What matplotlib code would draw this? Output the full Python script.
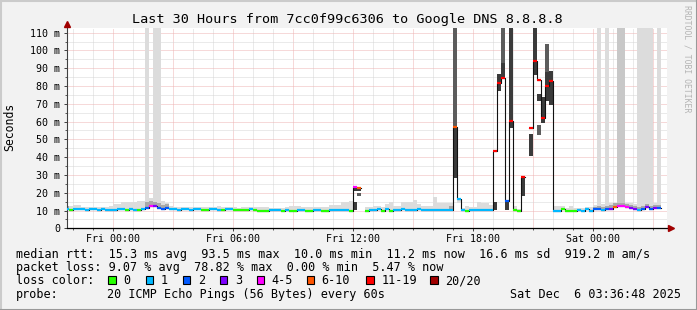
import numpy as np
import matplotlib
matplotlib.use("Agg")
import matplotlib.pyplot as plt
from matplotlib.lines import Line2D
from matplotlib.patches import Rectangle

plt.rcParams["font.family"] = ["DejaVu Sans Mono"]

W, H, DPI = 697, 310, 100

TITLE = "Last 30 Hours from 7cc0f99c6306 to Google DNS 8.8.8.8"
BIN_START = -2.4      # hours relative to Fri 00:00
BIN_HOURS = 0.2       # 12-minute consolidation step
XLIM = (-2.3, 27.7)
YLIM = (0, 112.8)

x_tick_hours = [0, 6, 12, 18, 24]
x_tick_labels = ["Fri 00:00", "Fri 06:00", "Fri 12:00", "Fri 18:00", "Sat 00:00"]
y_tick_values = [0, 10, 20, 30, 40, 50, 60, 70, 80, 90, 100, 110]
y_tick_labels = ["0", "10 m", "20 m", "30 m", "40 m", "50 m", "60 m",
                 "70 m", "80 m", "90 m", "100 m", "110 m"]

# median rtt per 12-minute bin (ms); None = unknown
median_ms = [
    10.7, 10.1, 10.7, 10.7, 10.7, 10.1, 10.7, 10.7, 10.1, 10.7,
    10.1, 10.1, 10.1, 10.7, 10.7, 10.2, 10.7, 10.5, 10.2, 10.7,
    11.5, 12.7, 12.7, 11.5, 11.0, 11.3, 10.7, 10.7, 10.4, 10.7,
    10.7, 10.4, 10.7, 10.7, 10.1, 10.1, 10.7, 10.7, 10.5, 10.1,
    10.6, 10.6, 10.1, 10.1, 10.1, 10.3, 10.6, 10.1, 10.0, 10.0,
    10.0, 10.3, 10.3, 10.5, 9.9, 10.5, 9.9, 9.9, 10.5, 10.3,
    9.9, 9.9, 10.5, 10.5, 9.9, 9.9, 10.4, 10.4, 10.5, 10.3,
    10.4, 9.9, 23.5, 22.4, None, 10.0, 10.3, 10.3, 10.6, 10.0,
    10.6, 10.0, 10.5, 10.3, 10.6, 10.3, 10.5, 10.3, 10.6, 10.5,
    10.3, 10.5, 10.3, 10.5, 10.5, 10.3, 10.3, 57.2, 16.3, 10.2,
    10.0, 10.3, 10.5, 10.5, 10.3, 10.3, 10.3, 43.5, 81.5, 84.7,
    15.4, 60.3, 10.2, 9.9, 28.7, None, 56.6, 94.1, 83.4, 62.2,
    80.0, 82.8, 9.8, 9.8, 10.7, 9.8, 9.8, 9.8, 10.5, 9.8,
    11.1, 9.8, 10.7, 10.7, 10.5, 10.7, 10.7, 12.0, 12.6, 12.6,
    12.0, 11.5, 11.1, 10.5, 10.7, 12.0, 11.1, 11.5, 11.2,
]

# loss class per bin: 0:"0" 1:"1" 2:"2" 3:"3" 4:"4-5" 5:"6-10" 6:"11-19" 7:"20/20"
loss_class = [
    1, 0, 1, 1, 1, 1, 1, 1, 1, 1,
    1, 1, 1, 1, 1, 0, 1, 1, 0, 1,
    2, 4, 3, 2, 2, 2, 1, 1, 1, 1,
    1, 1, 1, 1, 0, 0, 1, 1, 1, 0,
    1, 1, 0, 0, 0, 0, 1, 0, 0, 0,
    0, 1, 1, 1, 0, 1, 0, 0, 1, 1,
    0, 0, 1, 1, 0, 0, 1, 1, 1, 1,
    1, 0, 4, 5, None, 0, 1, 1, 1, 0,
    1, 0, 1, 1, 1, 1, 1, 1, 1, 1,
    1, 1, 1, 1, 1, 1, 1, 5, 1, 1,
    0, 1, 1, 1, 1, 1, 1, 6, 6, 6,
    2, 6, 0, 0, 6, None, 6, 6, 6, 6,
    6, 6, 1, 1, 0, 0, 0, 0, 1, 1,
    1, 1, 2, 2, 1, 2, 3, 5, 4, 4,
    4, 3, 3, 1, 2, 3, 2, 3, 2,
]

# top of the light outer smoke per bin (ms); None = no light smoke
smoke_top = [
    12.7, 12.5, 13.1, 13.1, 11.8, 11.8, 12.0, 12.2, 12.2, 11.8,
    11.8, 12.8, 13.7, 13.7, 14.6, 14.6, 14.6, 15.0, 15.4, 15.4,
    120, 17.0, 120, 120, 15.5, 14.0, 12.5, 12.0, 12.0, 11.8,
    11.8, 11.8, 12.0, 12.0, 11.8, 12.2, 11.8, 11.8, 12.5, 11.8,
    11.8, 12.0, 11.8, 11.5, 11.8, 12.2, 11.8, 12.0, 12.2, 12.2,
    12.0, 11.5, 11.2, 11.5, 11.5, 12.0, 12.5, 12.5, 12.5, 12.0,
    12.0, 12.0, 12.0, 11.8, 11.8, 12.0, 13.1, 13.1, 13.1, 15.0,
    15.0, 15.5, None, None, None, 12.2, 12.2, 12.5, 12.5, 12.2,
    13.5, 15.0, 12.5, 12.5, 15.0, 15.0, 15.0, 15.9, 13.5, 12.5,
    12.5, 12.8, 17.8, 14.5, 14.5, 14.0, 14.4, None, 14.0, 11.5,
    12.5, 12.0, 12.0, 14.7, 14.5, 14.0, 13.3, None, None, None,
    None, None, 12.5, 10.8, None, None, None, None, None, None,
    None, None, 12.7, 12.7, 12.5, 11.5, 12.8, 11.5, 11.5, 11.2,
    12.0, 12.0, 13.0, 120, 13.5, 120, 14.0, 14.5, 120, 120,
    14.5, 14.0, 13.5, 120, 120, 120, 120, 14.0, 120,
]
dense_outer_bins = [138, 139]

# inner (denser) smoke near the median
mid_smoke_bins = [0, 20, 21, 22, 23, 24, 25, 96, 132, 133, 134, 135, 136, 137,
                  138, 139, 140, 141, 142, 143, 144, 145, 146, 147, 148]
mid_smoke_top = [12.3, 15.0, 15.5, 15.0, 14.5, 13.0, 13.5, 12.5, 12.0, 12.5, 12.0,
                 12.5, 13.0, 14.0, 14.4, 14.4, 13.8, 13.0, 12.5, 12.0, 12.5,
                 13.5, 12.5, 13.0, 13.0]

# dark smoke blocks of the high-latency bins: bin, low, high, shade (0 dark, 1 medium)
block_bin = [72, 72, 73, 73, 97, 97, 107, 108, 109, 109, 110, 111, 114, 116,
             117, 118, 118, 119, 120, 120, 121]
block_low = [10.3, 21.0, 21.0, 18.3, 28.1, 57.2, 10.3, 77.4, 84.2, 92.8, 10.3,
             56.6, 17.9, 40.8, 86.2, 71.6, 52.5, 59.0, 71.6, 88.1, 69.4]
block_high = [15.0, 23.0, 22.5, 20.0, 57.2, 120, 15.0, 86.6, 92.8, 120, 15.8,
              120, 29.1, 52.9, 120, 75.4, 58.1, 74.0, 88.1, 103.7, 88.5]
block_shade = [0, 0, 0, 1, 0, 1, 0, 0, 0, 1, 0, 0, 0, 0, 0, 0, 1, 0, 0, 1, 0]

loss_labels = ["0", "1", "2", "3", "4-5", "6-10", "11-19", "20/20"]
loss_colors = ["#26ff00", "#00b8ff", "#0059ff", "#7e00ff", "#ff00ff",
               "#ff5500", "#ff0000", "#a10000"]

stats_line1 = "median rtt:  15.3 ms avg  93.5 ms max  10.0 ms min  11.2 ms now  16.6 ms sd  919.2 m am/s"
stats_line2 = "packet loss: 9.07 % avg  78.82 % max  0.00 % min  5.47 % now"
probe_text = "20 ICMP Echo Pings (56 Bytes) every 60s"
date_text = "Sat Dec  6 03:36:48 2025"
watermark = "RRDTOOL / TOBI OETIKER"

# ---------------------------------------------------------------
def fx(px):
    return px / W


def fy(py):
    return 1 - py / H


fig = plt.figure(figsize=(W / DPI, H / DPI), dpi=DPI, facecolor="#f2f2f2")

# frame shading
fig.add_artist(Line2D([0, 1], [fy(0.5), fy(0.5)], transform=fig.transFigure, color="#cbcbcb", lw=1.5))
fig.add_artist(Line2D([fx(0.5), fx(0.5)], [0, 1], transform=fig.transFigure, color="#cbcbcb", lw=1.5))
fig.add_artist(Line2D([0, 1], [fy(H - 0.5), fy(H - 0.5)], transform=fig.transFigure, color="#999999", lw=1.5))
fig.add_artist(Line2D([fx(W - 0.5), fx(W - 0.5)], [0, 1], transform=fig.transFigure, color="#999999", lw=1.5))

L, R, T, B = 67, 667, 27.7, 228.3
ax = fig.add_axes([fx(L), fy(B), (R - L) / W, (B - T) / H])
ax.set_facecolor("white")
ax.set_xlim(*XLIM)
ax.set_ylim(*YLIM)

# faint dotted grid
for h in range(-2, 28):
    c = "#eeb4b4" if h % 3 == 0 else "#d6d6d6"
    ax.axvline(h, color=c, lw=0.72, ls=(0, (1, 1)), zorder=0)
for v in range(5, 113, 5):
    c = "#eeb4b4" if v % 10 == 0 else "#d6d6d6"
    ax.axhline(v, color=c, lw=0.72, ls=(0, (1, 1)), zorder=0)

med = np.array(median_ms, dtype=float)
n = len(med)
starts = BIN_START + BIN_HOURS * np.arange(n)

# light outer smoke
top = np.array(smoke_top, dtype=float)
for i in range(n):
    if np.isnan(top[i]):
        continue
    lo = med[i] - 0.5
    col = "#c8c8c8" if i in dense_outer_bins else "#dcdcdc"
    ax.bar(starts[i], top[i] - lo, width=BIN_HOURS, bottom=lo, align="edge",
           color=col, linewidth=0, zorder=1)

# inner smoke
for b, t in zip(mid_smoke_bins, mid_smoke_top):
    lo = med[b] - 0.4
    ax.bar(starts[b], t - lo, width=BIN_HOURS, bottom=lo, align="edge",
           color="#a9a9a9", linewidth=0, zorder=2)

# dark smoke blocks
shades = ["#3b3b3b", "#5c5c5c"]
for b, lo, hi, s in zip(block_bin, block_low, block_high, block_shade):
    ax.bar(starts[b], hi - lo, width=BIN_HOURS, bottom=lo, align="edge",
           color=shades[s], linewidth=0, zorder=3)

# median thin line
xs = np.append(starts, starts[-1] + BIN_HOURS)
ys = np.append(med, med[-1])
ax.step(xs, ys, where="post", color="#111111", lw=0.8, zorder=4)

# loss-coloured median marks
for i in range(n):
    if loss_class[i] is None or np.isnan(med[i]):
        continue
    ax.hlines(med[i], starts[i], starts[i] + BIN_HOURS, colors=loss_colors[loss_class[i]],
              lw=1.6, zorder=5, capstyle="butt")

# axes styling
for s in ["top", "right"]:
    ax.spines[s].set_visible(False)
ax.spines["left"].set_color("#404040")
ax.spines["left"].set_linewidth(0.8)
ax.spines["bottom"].set_color("#000000")
ax.spines["bottom"].set_linewidth(0.9)
ax.set_xticks(x_tick_hours)
ax.set_xticklabels(x_tick_labels)
ax.set_xticks(np.arange(-2, 28, 1), minor=True)
ax.set_yticks(y_tick_values)
ax.set_yticklabels(y_tick_labels)
ax.set_yticks(np.arange(5, 113, 5), minor=True)
ax.tick_params(axis="both", which="major", labelsize=7.2, length=2.2, width=0.7,
               color="#404040", direction="out")
ax.tick_params(axis="both", which="minor", length=1.5, width=0.6, color="#404040")
ax.tick_params(axis="x", which="major", pad=1.6)
ax.tick_params(axis="y", which="major", pad=2.8)

# arrows
ax.plot([0], [1.016], marker="^", ms=4.2, color="#a10000", mec="#a10000",
        transform=ax.transAxes, clip_on=False, zorder=6)
ax.plot([1.006], [0], marker=">", ms=4.2, color="#a10000", mec="#a10000",
        transform=ax.transAxes, clip_on=False, zorder=6)

# texts
fig.text(fx(347.5), fy(19), TITLE, fontsize=9.7, ha="center", va="center")
fig.text(fx(10), fy(127), "Seconds", fontsize=8.3, rotation=90, ha="center", va="center")
fig.text(fx(687.5), fy(59), watermark, fontsize=5.9, rotation=270, ha="center",
         va="center", color="#b4b4b4")

LF = 8.5
fig.text(fx(16), fy(257.7), stats_line1, fontsize=LF, ha="left", va="baseline")
fig.text(fx(16), fy(271), stats_line2, fontsize=LF, ha="left", va="baseline")
fig.text(fx(16), fy(284.5), "loss color:", fontsize=LF, ha="left", va="baseline")
square_x = [108.3, 145.7, 182.7, 220.0, 256.7, 306.7, 366.3, 430.3]
for sx, lab, col in zip(square_x, loss_labels, loss_colors):
    fig.add_artist(Rectangle((fx(sx), fy(284.3)), 7.5 / W, 8.0 / H, transform=fig.transFigure,
                             facecolor=col, edgecolor="black", linewidth=0.8))
    fig.text(fx(sx + 15), fy(284.5), lab, fontsize=LF, ha="left", va="baseline")
fig.text(fx(16), fy(298), "probe:", fontsize=LF, ha="left", va="baseline")
fig.text(fx(107), fy(298), probe_text, fontsize=LF, ha="left", va="baseline")
fig.text(fx(681), fy(298), date_text, fontsize=LF, ha="right", va="baseline")

fig.savefig("out.png", dpi=DPI, facecolor=fig.get_facecolor())
